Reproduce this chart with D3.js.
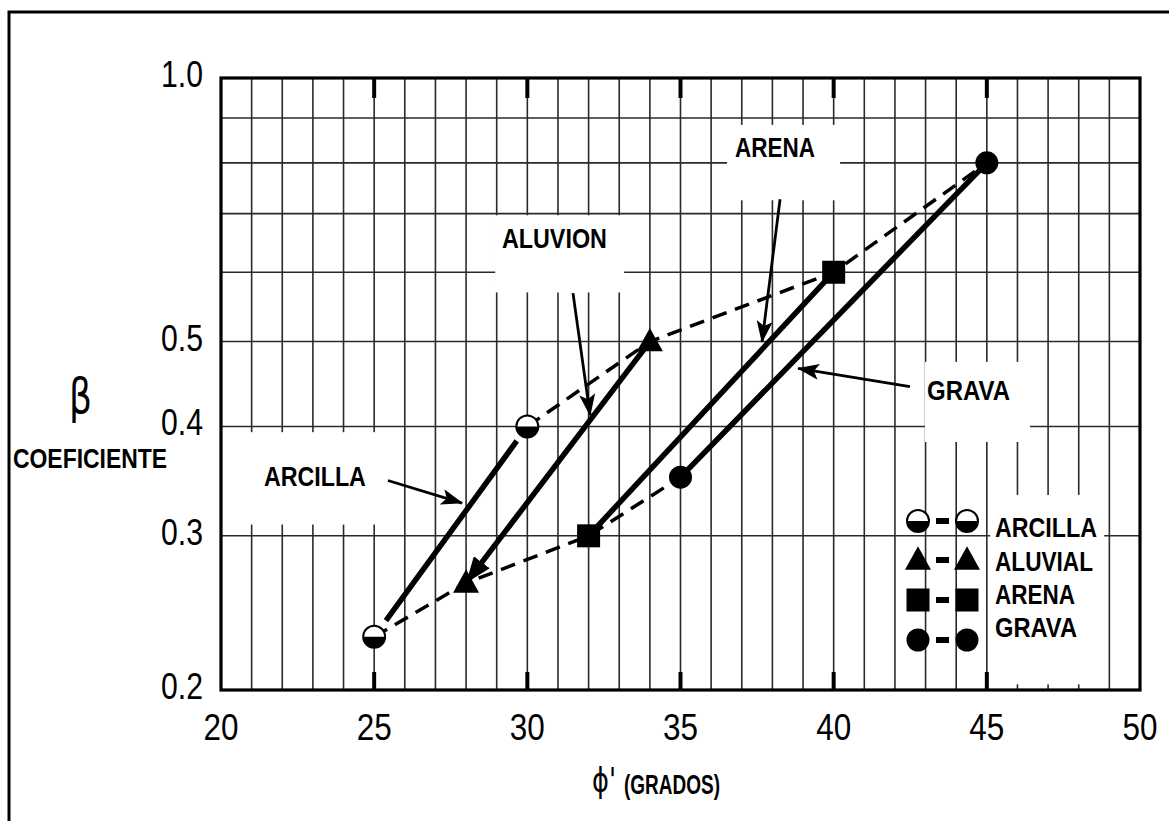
<!DOCTYPE html>
<html><head><meta charset="utf-8">
<script src="https://cdn.jsdelivr.net/npm/d3@7"></script>
<style>body{margin:0;background:#fff;} svg{display:block}</style>
</head><body>
<svg id="c" width="1169" height="821"></svg>
<script>
// ---------- data ----------
const soils = ["ARCILLA", "ALUVIAL", "ARENA", "GRAVA"];
const phiLow = [25, 28, 32, 35];
const betaLow = [0.23, 0.265, 0.30, 0.35];
const phiHigh = [30, 34, 40, 45];
const betaHigh = [0.40, 0.50, 0.60, 0.80];

const xTickValues = [20, 25, 30, 35, 40, 45, 50];
const xTickLabels = ["20", "25", "30", "35", "40", "45", "50"];
const xGridValues = [21,22,23,24,25,26,27,28,29,30,31,32,33,34,35,36,37,38,39,40,41,42,43,44,45,46,47,48,49];
const yTickValues = [0.2, 0.3, 0.4, 0.5, 1.0];
const yTickLabels = ["0.2", "0.3", "0.4", "0.5", "1.0"];
const yGridValues = [0.3, 0.4, 0.5, 0.6, 0.7, 0.8, 0.9];

const calloutText = ["ARCILLA", "ALUVION", "ARENA", "GRAVA"];
const calloutTextAt = [[21.40, 0.342], [29.17, 0.639], [36.78, 0.812], [43.05, 0.429]];
const calloutFrom = [[25.45, 0.347], [31.49, 0.568], [38.25, 0.727], [42.49, 0.444]];
const calloutTo = [[27.87, 0.327], [32.05, 0.412], [37.66, 0.4995], [38.84, 0.466]];
// white patches (x0, x1, yTop, yBottom) in data units
const patches = [
  [20.62, 25.35, 0.394, 0.309],
  [28.95, 33.16, 0.697, 0.569],
  [36.52, 40.21, 0.884, 0.725],
  [42.98, 46.41, 0.474, 0.384],
  [45.11, 48.83, 0.334, 0.203]
];

// ---------- layout ----------
const svg = d3.select("#c");
const L = 221, R = 1140, T = 78, B = 690;
const x = d3.scaleLinear().domain([20, 50]).range([L, R]);
const y = d3.scaleLog().domain([0.2, 1.0]).range([B, T]);
const FONT = "'Liberation Sans', Arial, sans-serif";

// outer frame
svg.append("rect").attr("x", 9).attr("y", 12).attr("width", 1175).attr("height", 830)
  .attr("fill", "#fff").attr("stroke", "#000").attr("stroke-width", 3);

// grid
const grid = svg.append("g").attr("stroke", "#2a2a2a").attr("stroke-width", 1.6);
grid.selectAll("line.v").data(xGridValues).join("line")
  .attr("x1", d => x(d)).attr("x2", d => x(d)).attr("y1", T).attr("y2", B);
grid.selectAll("line.h").data(yGridValues).join("line")
  .attr("y1", d => y(d)).attr("y2", d => y(d)).attr("x1", L).attr("x2", R);

// white patches behind labels
svg.append("g").selectAll("rect").data(patches).join("rect")
  .attr("x", d => x(d[0])).attr("width", d => x(d[1]) - x(d[0]))
  .attr("y", d => y(d[2])).attr("height", d => y(d[3]) - y(d[2]))
  .attr("fill", "#fff");

// major ticks inside top & bottom
const major = xTickValues.filter(v => v > 20 && v < 50);
svg.append("g").attr("stroke", "#000").attr("stroke-width", 4).selectAll("line").data(major).join("line")
  .attr("x1", d => x(d)).attr("x2", d => x(d)).attr("y1", B).attr("y2", B - 18);
svg.append("g").attr("stroke", "#000").attr("stroke-width", 4).selectAll("line").data(major).join("line")
  .attr("x1", d => x(d)).attr("x2", d => x(d)).attr("y1", T).attr("y2", T + 20);

// plot border
svg.append("rect").attr("x", L).attr("y", T).attr("width", R - L).attr("height", B - T)
  .attr("fill", "none").attr("stroke", "#000").attr("stroke-width", 3.2);

// axes tick labels
svg.append("g").selectAll("text").data(xTickValues).join("text")
  .attr("x", d => x(d)).attr("y", 740).attr("text-anchor", "middle")
  .attr("font-family", FONT).attr("font-size", 37)
  .attr("textLength", 35).attr("lengthAdjust", "spacingAndGlyphs")
  .text((d, i) => xTickLabels[i]);
svg.append("g").selectAll("text").data(yTickValues).join("text")
  .attr("x", 203).attr("y", d => y(d) + 9).attr("text-anchor", "end")
  .attr("font-family", FONT).attr("font-size", 36)
  .attr("textLength", 42).attr("lengthAdjust", "spacingAndGlyphs")
  .text((d, i) => yTickLabels[i]);

// axis titles
svg.append("text").attr("x", 69).attr("y", 413).attr("font-family", "'DejaVu Sans', sans-serif")
  .attr("font-size", 48).attr("textLength", 23).attr("lengthAdjust", "spacingAndGlyphs").text("β");
svg.append("text").attr("x", 13).attr("y", 468).attr("font-family", FONT).attr("font-weight", "bold")
  .attr("font-size", 28).attr("textLength", 154).attr("lengthAdjust", "spacingAndGlyphs").text("COEFICIENTE");
svg.append("text").attr("x", 592).attr("y", 792).attr("font-family", "'DejaVu Sans', sans-serif")
  .attr("font-size", 34).attr("textLength", 24).attr("lengthAdjust", "spacingAndGlyphs").text("ϕ'");
svg.append("text").attr("x", 624).attr("y", 794).attr("font-family", FONT).attr("font-weight", "bold")
  .attr("font-size", 27).attr("textLength", 96).attr("lengthAdjust", "spacingAndGlyphs").text("(GRADOS)");

// arrow marker
const defs = svg.append("defs");
defs.append("marker").attr("id", "ah").attr("markerUnits", "userSpaceOnUse")
  .attr("viewBox", "0 0 22 16").attr("refX", 21).attr("refY", 8)
  .attr("markerWidth", 22).attr("markerHeight", 16).attr("orient", "auto")
  .append("path").attr("d", "M0,0 L22,8 L0,16 L5,8 Z").attr("fill", "#000");
defs.append("marker").attr("id", "ah2").attr("markerUnits", "userSpaceOnUse")
  .attr("viewBox", "0 0 26 20").attr("refX", 22).attr("refY", 10)
  .attr("markerWidth", 26).attr("markerHeight", 20).attr("orient", "auto")
  .append("path").attr("d", "M0,0 L26,10 L0,20 Z").attr("fill", "#000");

// dashed envelopes
const lineGen = d3.line().x(d => x(d[0])).y(d => y(d[1]));
const lowPts = phiLow.map((p, i) => [p, betaLow[i]]);
const highPts = phiHigh.map((p, i) => [p, betaHigh[i]]);
[lowPts, highPts].forEach(pts => {
  svg.append("path").attr("d", lineGen(pts)).attr("fill", "none").attr("stroke", "#000")
    .attr("stroke-width", 3.5).attr("stroke-dasharray", "15,9");
});

// solid soil lines
soils.forEach((s, i) => {
  let p0 = [x(phiLow[i]), y(betaLow[i])], p1 = [x(phiHigh[i]), y(betaHigh[i])];
  const dx = p1[0] - p0[0], dy = p1[1] - p0[1], len = Math.hypot(dx, dy);
  const ux = dx / len, uy = dy / len;
  if (i === 0) { p0 = [p0[0] + 20 * ux, p0[1] + 20 * uy]; p1 = [p1[0] - 18 * ux, p1[1] - 18 * uy]; }
  const ln = svg.append("line").attr("stroke", "#000").attr("stroke-width", 5.5).attr("stroke-linecap", "butt");
  if (i === 1) {
    ln.attr("x1", p1[0]).attr("y1", p1[1]).attr("x2", p0[0] + 4 * ux).attr("y2", p0[1] + 4 * uy)
      .attr("marker-end", "url(#ah2)");
  } else {
    ln.attr("x1", p0[0]).attr("y1", p0[1]).attr("x2", p1[0]).attr("y2", p1[1]);
  }
});

// marker drawing
function drawMarker(g, kind, cx, cy, s) {
  if (kind === 0) {
    const r = 11 * s;
    g.append("circle").attr("cx", cx).attr("cy", cy).attr("r", r).attr("fill", "#fff").attr("stroke", "#000").attr("stroke-width", 2);
    g.append("path").attr("d", `M${cx - r},${cy} A${r},${r} 0 0 0 ${cx + r},${cy} Z`).attr("fill", "#000");
  } else if (kind === 1) {
    const h = 13 * s;
    g.append("path").attr("d", `M${cx},${cy - h * 1.05} L${cx + h},${cy + h * 0.75} L${cx - h},${cy + h * 0.75} Z`).attr("fill", "#000");
  } else if (kind === 2) {
    const h = 11.5 * s;
    g.append("rect").attr("x", cx - h).attr("y", cy - h).attr("width", 2 * h).attr("height", 2 * h).attr("fill", "#000");
  } else {
    g.append("circle").attr("cx", cx).attr("cy", cy).attr("r", 11.5 * s).attr("fill", "#000");
  }
}
const mg = svg.append("g");
soils.forEach((s, i) => {
  drawMarker(mg, i, x(phiLow[i]), y(betaLow[i]), 1);
  drawMarker(mg, i, x(phiHigh[i]), y(betaHigh[i]), 1);
});

// callout arrows and labels
calloutText.forEach((t, i) => {
  svg.append("line").attr("x1", x(calloutFrom[i][0])).attr("y1", y(calloutFrom[i][1]))
    .attr("x2", x(calloutTo[i][0])).attr("y2", y(calloutTo[i][1]))
    .attr("stroke", "#000").attr("stroke-width", 2.8).attr("marker-end", "url(#ah)");
});
const calloutWidths = [102, 105, 80, 83];
svg.append("g").selectAll("text").data(calloutText).join("text")
  .attr("x", (d, i) => x(calloutTextAt[i][0])).attr("y", (d, i) => y(calloutTextAt[i][1]))
  .attr("font-family", FONT).attr("font-weight", "bold").attr("font-size", 27)
  .attr("textLength", (d, i) => calloutWidths[i]).attr("lengthAdjust", "spacingAndGlyphs")
  .text(d => d);

// legend
const lg = svg.append("g");
const legSymY = [521, 560, 600, 640];
const legTextY = [537, 571, 604, 637];
const legWidths = [102, 98, 80, 82];
soils.forEach((s, i) => {
  drawMarker(lg, i, 918, legSymY[i], 1.0);
  drawMarker(lg, i, 967, legSymY[i], 1.0);
  lg.append("rect").attr("x", 936).attr("y", legSymY[i] - 3).attr("width", 13).attr("height", 6).attr("fill", "#000");
  lg.append("text").attr("x", 995).attr("y", legTextY[i]).attr("font-family", FONT).attr("font-weight", "bold")
    .attr("font-size", 27).attr("textLength", legWidths[i]).attr("lengthAdjust", "spacingAndGlyphs").text(s);
});
</script>
</body></html>
